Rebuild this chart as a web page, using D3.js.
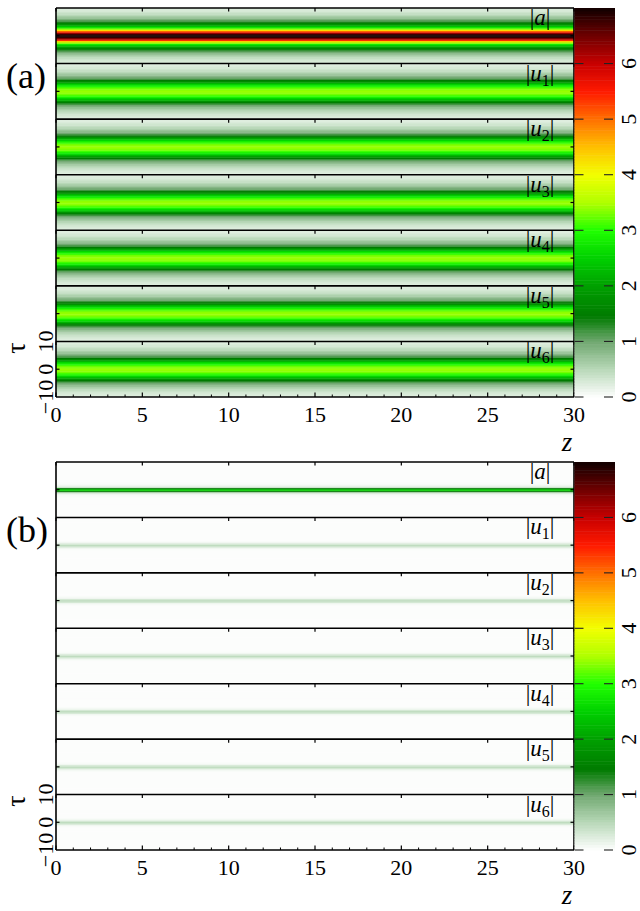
<!DOCTYPE html>
<html>
<head>
<meta charset="utf-8">
<script src="https://cdn.jsdelivr.net/npm/d3@7"></script>
<style>
  html, body { margin: 0; padding: 0; background: #fff; }
  svg { display: block; }
</style>
</head>
<body>
<svg id="chart" width="640" height="911"></svg>
<script>
// ---- data -------------------------------------------------------------
const zTicks = [0, 5, 10, 15, 20, 25, 30];
const zMinorTicks = [1, 2, 3, 4, 6, 7, 8, 9, 11, 12, 13, 14, 16, 17, 18, 19, 21, 22, 23, 24, 26, 27, 28, 29];
const tauTicks = [-10, 0, 10];
const tauTickLabels = ["\u221210", "0", "10"];
const colorTicks = [0, 1, 2, 3, 4, 5, 6];
const stripNames = ["a", "u1", "u2", "u3", "u4", "u5", "u6"];
const panelLabels = ["(a)", "(b)"];

// |tau| sample positions for the transverse profiles (profiles are symmetric in tau)
const tauAbs = [0, 0.5, 1, 1.5, 2, 2.5, 3, 3.5, 4, 4.5, 5, 5.5, 6, 6.5, 7, 7.5, 8, 8.5, 9, 9.5, 10];

// panel (a): amplitude profiles
const aProfileA = [7.0, 6.85, 6.3, 5.4, 4.3, 3.4, 2.8, 2.35, 1.95, 1.6, 1.35, 1.12, 0.92, 0.75, 0.62, 0.5, 0.42, 0.35, 0.3, 0.26, 0.22];
const u1ProfileA = [3.42, 3.38, 3.28, 3.1, 2.85, 2.55, 2.2, 1.8, 1.45, 1.2, 1.0, 0.85, 0.72, 0.6, 0.5, 0.42, 0.35, 0.3, 0.26, 0.23, 0.2];
const u2ProfileA = [3.42, 3.38, 3.28, 3.1, 2.85, 2.55, 2.2, 1.8, 1.45, 1.2, 1.0, 0.85, 0.72, 0.6, 0.5, 0.42, 0.35, 0.3, 0.26, 0.23, 0.2];
const u3ProfileA = [3.42, 3.38, 3.28, 3.1, 2.85, 2.55, 2.2, 1.8, 1.45, 1.2, 1.0, 0.85, 0.72, 0.6, 0.5, 0.42, 0.35, 0.3, 0.26, 0.23, 0.2];
const u4ProfileA = [3.42, 3.38, 3.28, 3.1, 2.85, 2.55, 2.2, 1.8, 1.45, 1.2, 1.0, 0.85, 0.72, 0.6, 0.5, 0.42, 0.35, 0.3, 0.26, 0.23, 0.2];
const u5ProfileA = [3.42, 3.38, 3.28, 3.1, 2.85, 2.55, 2.2, 1.8, 1.45, 1.2, 1.0, 0.85, 0.72, 0.6, 0.5, 0.42, 0.35, 0.3, 0.26, 0.23, 0.2];
const u6ProfileA = [3.42, 3.38, 3.28, 3.1, 2.85, 2.55, 2.2, 1.8, 1.45, 1.2, 1.0, 0.85, 0.72, 0.6, 0.5, 0.42, 0.35, 0.3, 0.26, 0.23, 0.2];

// panel (b): amplitude profiles
const aProfileB = [2.6, 1.35, 0.35, 0.12, 0.06, 0.04, 0.03, 0.03, 0.02, 0.02, 0.02, 0.02, 0.02, 0.02, 0.02, 0.02, 0.02, 0.02, 0.02, 0.02, 0.02];
const uProfileB = [0.45, 0.3, 0.1, 0.04, 0.02, 0.02, 0.02, 0.02, 0.02, 0.02, 0.02, 0.02, 0.02, 0.02, 0.02, 0.02, 0.02, 0.02, 0.02, 0.02, 0.02];

// colour map stops
const cmapValues = [0, 0.5, 1.0, 1.45, 2.0, 2.5, 3.0, 3.5, 4.0, 4.5, 5.0, 5.5, 6.0, 6.5, 7.0];
const cmapColors = ["#ffffff", "#b8d8b8", "#70a870", "#007a00", "#00a000", "#00d000", "#20ff00",
                    "#b0ff00", "#f2ff00", "#ffc000", "#ff7000", "#ff1a00", "#c80000", "#700000", "#100000"];

// ---- setup ------------------------------------------------------------
const svg = d3.select("#chart");
const color = d3.scaleLinear().domain(cmapValues).range(cmapColors).interpolate(d3.interpolateRgb).clamp(true);

const plotLeft = 56, plotRight = 574;
const cbLeft = 574.5, cbRight = 615;

const panels = [
  { label: panelLabels[0], top: 8, bottom: 397,
    profiles: [aProfileA, u1ProfileA, u2ProfileA, u3ProfileA, u4ProfileA, u5ProfileA, u6ProfileA] },
  { label: panelLabels[1], top: 462, bottom: 850,
    profiles: [aProfileB, uProfileB, uProfileB, uProfileB, uProfileB, uProfileB, uProfileB] }
];

// signed tau rows built from the symmetric samples
const tauRows = tauAbs.slice(1).reverse().map(t => -t).concat(tauAbs);
const valueAt = (profile, tau) => profile[tauAbs.indexOf(Math.abs(tau))];

const addText = (sel) => sel.attr("font-family", "\"Liberation Serif\"").attr("fill", "#000");

panels.forEach((p) => {
  const g = svg.append("g");
  const x = d3.scaleLinear().domain([0, 30]).range([plotLeft, plotRight]);
  const stripH = (p.bottom - p.top) / stripNames.length;

  stripNames.forEach((name, si) => {
    const sTop = p.top + si * stripH, sBot = sTop + stripH;
    const y = d3.scaleLinear().domain([-10, 10]).range([sBot, sTop]);
    const prof = p.profiles[si];

    // heat-map rows
    g.append("g").selectAll("rect")
      .data(tauRows)
      .join("rect")
      .attr("x", x(0))
      .attr("width", x(30) - x(0))
      .attr("y", d => Math.max(sTop, y(d + 0.25)))
      .attr("height", d => Math.min(sBot, y(d - 0.25) + 0.4) - Math.max(sTop, y(d + 0.25)))
      .attr("fill", d => color(valueAt(prof, d)));

    // strip top frame line with inward ticks
    g.append("line").attr("x1", x(0)).attr("x2", x(30)).attr("y1", sTop).attr("y2", sTop)
      .attr("stroke", "#000").attr("stroke-width", 1.6);
    g.append("g").selectAll("line").data(zTicks).join("line")
      .attr("x1", d => x(d)).attr("x2", d => x(d))
      .attr("y1", sTop).attr("y2", sTop + 3.5)
      .attr("stroke", "#000").attr("stroke-width", 1.2);

    // tau = 0 ticks on both sides
    g.append("line").attr("x1", x(0)).attr("x2", x(0) + 3.5).attr("y1", y(0)).attr("y2", y(0))
      .attr("stroke", "#000").attr("stroke-width", 1.2);
    g.append("line").attr("x1", x(30)).attr("x2", x(30) - 3.5).attr("y1", y(0)).attr("y2", y(0))
      .attr("stroke", "#000").attr("stroke-width", 1.2);

    // strip label |a|, |u_n|
    const lab = g.append("text")
      .attr("x", 540).attr("y", sTop + 17)
      .attr("text-anchor", "middle")
      .attr("font-size", 23)
      .call(addText);
    lab.append("tspan").text("|");
    lab.append("tspan").attr("font-style", "italic").text(name[0]);
    if (name.length > 1) {
      lab.append("tspan").attr("dy", 5).attr("font-size", 16).text(name.slice(1));
      lab.append("tspan").attr("dy", -5).text("|");
    } else {
      lab.append("tspan").text("|");
    }

    // tau axis labels on the lowest strip
    if (si === stripNames.length - 1) {
      g.append("g").selectAll("text").data(tauTicks).join("text")
        .attr("transform", d => `translate(53,${y(d)}) rotate(-90)`)
        .attr("text-anchor", "middle")
        .attr("font-size", 22)
        .call(addText)
        .text((d, i) => tauTickLabels[i]);
    }
  });

  // outer frame: left, right, bottom
  g.append("line").attr("x1", x(0)).attr("x2", x(0)).attr("y1", p.top).attr("y2", p.bottom)
    .attr("stroke", "#000").attr("stroke-width", 1.6);
  g.append("line").attr("x1", x(30)).attr("x2", x(30)).attr("y1", p.top).attr("y2", p.bottom)
    .attr("stroke", "#000").attr("stroke-width", 1.6);
  g.append("line").attr("x1", x(0)).attr("x2", x(30)).attr("y1", p.bottom).attr("y2", p.bottom)
    .attr("stroke", "#000").attr("stroke-width", 1.6);

  // bottom z axis ticks
  g.append("g").selectAll("line").data(zTicks).join("line")
    .attr("x1", d => x(d)).attr("x2", d => x(d))
    .attr("y1", p.bottom).attr("y2", p.bottom - 4.5)
    .attr("stroke", "#000").attr("stroke-width", 1.2);
  g.append("g").selectAll("line").data(zMinorTicks).join("line")
    .attr("x1", d => x(d)).attr("x2", d => x(d))
    .attr("y1", p.bottom).attr("y2", p.bottom - 2.5)
    .attr("stroke", "#000").attr("stroke-width", 1);
  g.append("g").selectAll("text").data(zTicks).join("text")
    .attr("x", d => x(d)).attr("y", p.bottom + 25)
    .attr("text-anchor", "middle")
    .attr("font-size", 22)
    .call(addText)
    .text(d => d);
  g.append("text").attr("x", 567).attr("y", p.bottom + 54)
    .attr("text-anchor", "middle")
    .attr("font-size", 27).attr("font-style", "italic")
    .call(addText)
    .text("z");

  // tau axis title
  g.append("text")
    .attr("transform", `translate(25,${p.bottom - 49}) rotate(-90)`)
    .attr("text-anchor", "middle")
    .attr("font-size", 28)
    .call(addText)
    .text("\u03c4");

  // panel tag
  g.append("text").attr("x", 6).attr("y", p.top + 80)
    .attr("font-size", 36)
    .call(addText)
    .text(p.label);

  // colour bar
  const cy = d3.scaleLinear().domain([0, 7]).range([p.bottom, p.top]);
  const cbSteps = d3.range(0, 7, 0.05);
  g.append("g").selectAll("rect").data(cbSteps).join("rect")
    .attr("x", cbLeft).attr("width", cbRight - cbLeft)
    .attr("y", d => cy(d + 0.05))
    .attr("height", d => cy(d) - cy(d + 0.05) + 0.5)
    .attr("fill", d => color(d + 0.025));
  g.append("g").selectAll("line").data(colorTicks).join("line")
    .attr("x1", cbLeft).attr("x2", cbLeft + 9)
    .attr("y1", d => cy(d)).attr("y2", d => cy(d))
    .attr("stroke", "#222").attr("stroke-width", 1.1);
  g.append("g").selectAll("line").data(colorTicks).join("line")
    .attr("x1", cbRight - 11).attr("x2", cbRight - 2)
    .attr("y1", d => cy(d)).attr("y2", d => cy(d))
    .attr("stroke", "#222").attr("stroke-width", 1.1);
  g.append("g").selectAll("text").data(colorTicks).join("text")
    .attr("transform", d => `translate(636,${cy(d)}) rotate(-90)`)
    .attr("text-anchor", "middle")
    .attr("font-size", 22)
    .call(addText)
    .text(d => d);
});
</script>
</body>
</html>
